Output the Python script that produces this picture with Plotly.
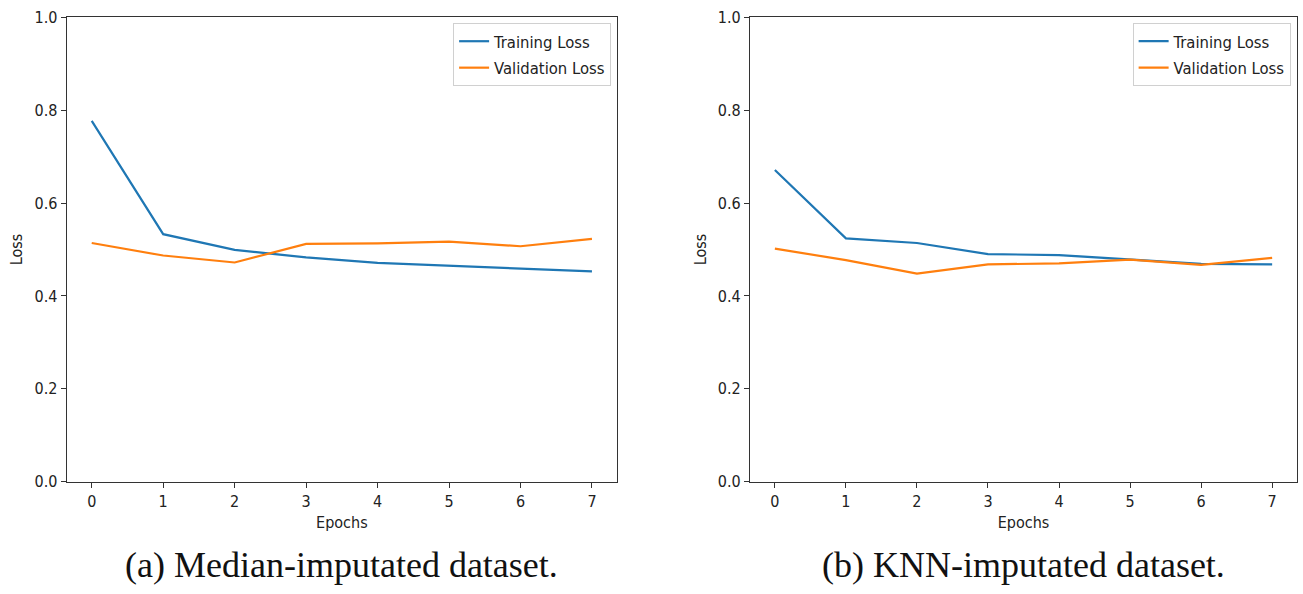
import plotly.graph_objects as go
from plotly.subplots import make_subplots

# Loss curves per epoch for the two imputation strategies
epochs = [0, 1, 2, 3, 4, 5, 6, 7]

median_train = [0.777, 0.533, 0.499, 0.483, 0.471, 0.465, 0.458, 0.453]
median_val = [0.514, 0.487, 0.472, 0.512, 0.513, 0.517, 0.507, 0.523]

knn_train = [0.671, 0.524, 0.514, 0.490, 0.488, 0.478, 0.469, 0.468]
knn_val = [0.502, 0.477, 0.448, 0.468, 0.470, 0.478, 0.467, 0.482]

captions = ["(a) Median-imputated dataset.", "(b) KNN-imputated dataset."]
y_ticks = [0.0, 0.2, 0.4, 0.6, 0.8, 1.0]

BLUE = "#1f77b4"
ORANGE = "#ff7f0e"
SANS = "DejaVu Sans Condensed, DejaVu Sans"
TICK_FONT = dict(family=SANS, size=16, color="#222222")

fig = make_subplots(rows=1, cols=2)

panels = [(median_train, median_val), (knn_train, knn_val)]
for i, (train, val) in enumerate(panels, start=1):
    leg = "legend" if i == 1 else "legend2"
    fig.add_trace(go.Scatter(x=epochs, y=train, mode="lines", name="Training Loss",
                             line=dict(color=BLUE, width=2.2), legendgroup=f"t{i}",
                             legend=leg), row=1, col=i)
    fig.add_trace(go.Scatter(x=epochs, y=val, mode="lines", name="Validation Loss",
                             line=dict(color=ORANGE, width=2.2), legendgroup=f"v{i}",
                             legend=leg), row=1, col=i)

x_domains = [[0.0512, 0.4735], [0.5756, 0.9954]]
y_domain = [0.189, 0.971]

axis_common = dict(showline=True, linecolor="#333333", linewidth=1.2, mirror=True,
                   ticks="outside", ticklen=5, tickwidth=1, tickcolor="#333333",
                   showgrid=False, zeroline=False, tickfont=TICK_FONT,
                   automargin=False)

for i in (1, 2):
    xa = "xaxis" if i == 1 else "xaxis2"
    ya = "yaxis" if i == 1 else "yaxis2"
    fig.layout[xa].update(domain=x_domains[i - 1], range=[-0.35, 7.35],
                          tickmode="array", tickvals=epochs,
                          title=dict(text="Epochs", font=TICK_FONT, standoff=6),
                          **axis_common)
    fig.layout[ya].update(domain=y_domain, range=[0, 1],
                          tickmode="array", tickvals=y_ticks,
                          ticktext=[f"{v:.1f}" for v in y_ticks],
                          title=dict(text="Loss", font=TICK_FONT, standoff=7),
                          **axis_common)

legend_style = dict(font=dict(family=SANS, size=16.5, color="#222222"),
                    bgcolor="rgba(255,255,255,0.8)", bordercolor="#d0d0d0",
                    borderwidth=1, xanchor="right", yanchor="top",
                    tracegroupgap=2, itemwidth=30)
fig.update_layout(
    legend=dict(x=0.469, y=0.9613, **legend_style),
    legend2=dict(x=0.9905, y=0.9613, **legend_style),
)

for i, text in enumerate(captions):
    cx = sum(x_domains[i]) / 2
    fig.add_annotation(text=text, x=cx, y=0.049, xref="paper", yref="paper",
                       showarrow=False, xanchor="center", yanchor="middle",
                       font=dict(family="Liberation Serif", size=36, color="#111111"))

fig.update_layout(width=1303, height=594, margin=dict(l=0, r=0, t=0, b=0),
                  plot_bgcolor="white", paper_bgcolor="white", showlegend=True)

fig.write_html("out.html")
